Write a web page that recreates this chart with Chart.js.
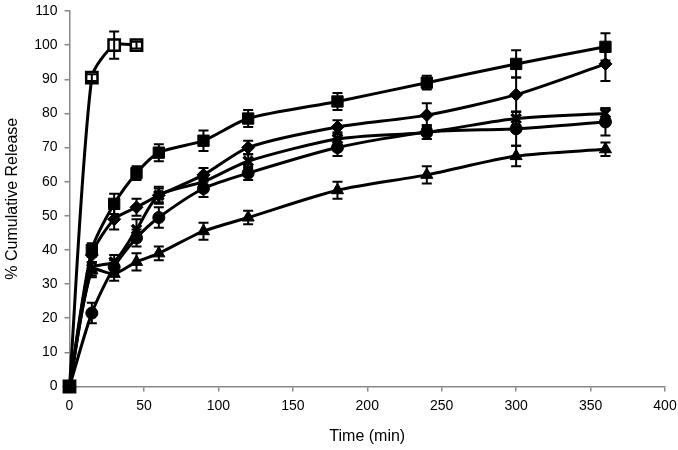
<!DOCTYPE html>
<html>
<head>
<meta charset="utf-8">
<script src="https://cdn.jsdelivr.net/npm/chart.js@4"></script>
<style>
  html, body { margin: 0; padding: 0; background: #fff; }
  #wrap { width: 678px; height: 450px; }
</style>
</head>
<body>
<div id="wrap"><canvas id="release-chart" width="678" height="450"></canvas></div>
<script>
// Sampling times (min)
const timeFast = [0, 15, 30, 45];
const timeFull = [0, 15, 30, 45, 60, 90, 120, 180, 240, 300, 360];

// % cumulative release, mean and error (±)
const openSquare = [0, 90.5, 100, 100];
const openSquareErr = [0, 1, 4, 1];

const filledSquare = [0, 40, 53.5, 62.5, 68.5, 72, 78.5, 83.5, 89, 94.5, 99.5];
const filledSquareErr = [0, 2, 3, 2, 2.5, 3, 2.5, 2.5, 2, 4, 4];

const diamond = [0, 38.5, 49, 52.5, 56, 62, 70, 76, 79.5, 85.5, 94.5];
const diamondErr = [0, 2, 3, 2.5, 2.5, 2, 2, 2, 3.5, 5, 5];

const cross = [0, 34.5, 36.5, 46, 56, 60, 66, 72.5, 74.5, 78.5, 80];
const crossErr = [0, 2, 2, 3, 2, 2, 2, 2, 2, 2, 1.5];

const circle = [0, 21.5, 35, 43.5, 49.5, 58, 62.5, 70, 74.5, 75.5, 77.5];
const circleErr = [0, 3, 2, 2.5, 3, 2.5, 2, 2.5, 2, 5, 4];

const triangle = [0, 34, 33, 36.5, 39, 45.5, 49.5, 57.5, 62, 67.5, 69.5];
const triangleErr = [0, 2, 2, 2.5, 2, 2.5, 2, 2.5, 2.5, 3, 2];

const xTicks = [0, 50, 100, 150, 200, 250, 300, 350, 400];
const yTicks = [0, 10, 20, 30, 40, 50, 60, 70, 80, 90, 100, 110];

function toPoints(xs, ys) {
  return xs.map((x, i) => ({ x: x, y: ys[i] }));
}

function series(xs, ys, errs, style, fill, radius, pbw, order) {
  return {
    data: toPoints(xs, ys),
    errors: errs,
    order: order,
    borderColor: '#000',
    borderWidth: 3,
    pointStyle: style,
    pointRadius: radius,
    pointBackgroundColor: fill,
    pointBorderColor: '#000',
    pointBorderWidth: pbw,
    tension: 0.25,
    clip: false
  };
}

// Draw vertical error bars with caps
const errorBars = {
  id: 'errorBars',
  afterDatasetsDraw(chart) {
    const ctx = chart.ctx;
    const xs = chart.scales.x;
    const ys = chart.scales.y;
    ctx.save();
    ctx.strokeStyle = '#000';
    ctx.lineWidth = 2;
    chart.data.datasets.forEach(ds => {
      ds.data.forEach((p, i) => {
        const e = ds.errors[i];
        if (!e) return;
        const px = xs.getPixelForValue(p.x);
        const top = ys.getPixelForValue(p.y + e);
        const bot = ys.getPixelForValue(p.y - e);
        ctx.beginPath();
        ctx.moveTo(px, top); ctx.lineTo(px, bot);
        ctx.moveTo(px - 5, top); ctx.lineTo(px + 5, top);
        ctx.moveTo(px - 5, bot); ctx.lineTo(px + 5, bot);
        ctx.stroke();
      });
    });
    ctx.restore();
  }
};

const tickFont = { family: 'Liberation Sans', size: 14 };
const titleFont = { family: 'Liberation Sans', size: 16 };

const ctx = document.getElementById('release-chart').getContext('2d');
new Chart(ctx, {
  type: 'line',
  data: {
    datasets: [
      series(timeFast, openSquare, openSquareErr, 'rect', '#fff', 8, 2.5, 10),
      series(timeFull, filledSquare, filledSquareErr, 'rect', '#000', 8, 1, 1),
      series(timeFull, diamond, diamondErr, 'rectRot', '#000', 6.5, 1, 2),
      series(timeFull, cross, crossErr, 'crossRot', '#000', 6.5, 3.5, 3),
      series(timeFull, circle, circleErr, 'circle', '#000', 6, 1, 4),
      series(timeFull, triangle, triangleErr, 'triangle', '#000', 7, 1, 5)
    ]
  },
  options: {
    responsive: false,
    animation: false,
    layout: { padding: { left: 0, right: 13, top: 11, bottom: 0 } },
    plugins: {
      legend: { display: false },
      tooltip: { enabled: false }
    },
    scales: {
      x: {
        type: 'linear',
        min: 0,
        max: 400,
        afterBuildTicks: scale => { scale.ticks = xTicks.map(v => ({ value: v })); },
        afterFit: scale => { scale.height = 63.5; scale.paddingLeft = 0; scale.paddingRight = 0; },
        border: { color: '#888', width: 1.5 },
        grid: { drawOnChartArea: false, drawTicks: true, tickLength: 5, color: '#888', lineWidth: 1.5 },
        ticks: { color: '#000', font: tickFont, padding: 6, maxRotation: 0 },
        title: { display: true, text: 'Time (min)', color: '#000', font: titleFont, padding: { top: 5 } }
      },
      y: {
        min: 0,
        max: 110,
        afterBuildTicks: scale => { scale.ticks = yTicks.map(v => ({ value: v })); },
        afterFit: scale => { scale.width = 69.5; scale.paddingTop = 0; scale.paddingBottom = 0; },
        border: { color: '#888', width: 1.5 },
        grid: { drawOnChartArea: false, drawTicks: true, tickLength: 5, color: '#888', lineWidth: 1.5 },
        ticks: { color: '#000', font: tickFont, padding: 7 },
        title: { display: true, text: '% Cumulative Release', color: '#000', font: titleFont, padding: { top: 3, bottom: 0 } }
      }
    }
  },
  plugins: [errorBars]
});
</script>
</body>
</html>
